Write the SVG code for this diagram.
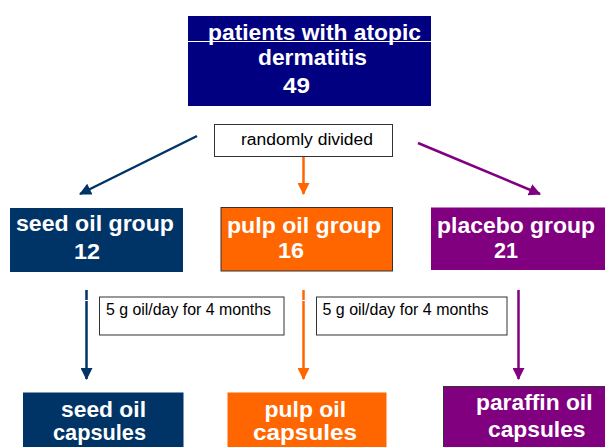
<svg xmlns="http://www.w3.org/2000/svg" width="605" height="447" viewBox="0 0 605 447">
<style>
.b{font-family:"Liberation Sans",Arial,sans-serif;font-weight:bold;font-size:22px;fill:#fff}
.r{font-family:"Liberation Sans",Arial,sans-serif;font-size:16px;fill:#000}
.lb{fill:#fff;stroke:#333;stroke-width:1}
.navy{fill:#003366}
.org{fill:#FF6600}
.pur{fill:#800080}
</style>
<defs>
<marker id="mN" viewBox="0 0 12 12" refX="11" refY="6" markerWidth="12" markerHeight="12" markerUnits="userSpaceOnUse" orient="auto"><path d="M0,0 L12,6 L0,12 z" fill="#003366"/></marker>
<marker id="mO" viewBox="0 0 12 12" refX="11" refY="6" markerWidth="12" markerHeight="12" markerUnits="userSpaceOnUse" orient="auto"><path d="M0,0 L12,6 L0,12 z" fill="#FF6600"/></marker>
<marker id="mP" viewBox="0 0 12 12" refX="11" refY="6" markerWidth="12" markerHeight="12" markerUnits="userSpaceOnUse" orient="auto"><path d="M0,0 L12,6 L0,12 z" fill="#800080"/></marker>
</defs>
<g id="connectors" fill="none" stroke-width="2.5">
<line x1="197" y1="136" x2="80" y2="194" stroke="#003366" marker-end="url(#mN)"/>
<line x1="303.5" y1="157" x2="303.5" y2="194" stroke="#FF6600" marker-end="url(#mO)"/>
<line x1="418" y1="143" x2="540" y2="194" stroke="#800080" marker-end="url(#mP)"/>
<line x1="86.5" y1="290" x2="86.5" y2="379" stroke="#003366" marker-end="url(#mN)"/>
<line x1="303.5" y1="290" x2="303.5" y2="379" stroke="#FF6600" marker-end="url(#mO)"/>
<line x1="518.5" y1="290" x2="518.5" y2="379" stroke="#800080" marker-end="url(#mP)"/>
<line x1="84" y1="300.5" x2="89" y2="300.5" stroke="#fff" stroke-width="1"/>
<line x1="301" y1="300.5" x2="306" y2="300.5" stroke="#fff" stroke-width="1"/>
</g>
<g id="patients">
<rect x="188" y="16" width="243" height="90" fill="#000080"/>
<text class="b" x="208" y="40" textLength="213" lengthAdjust="spacingAndGlyphs">patients with atopic</text>
<line x1="188" y1="41.5" x2="431" y2="41.5" stroke="#fff" stroke-width="1"/>
<text class="b" x="258" y="65" textLength="109" lengthAdjust="spacingAndGlyphs">dermatitis</text>
<text class="b" x="283" y="93" textLength="27" lengthAdjust="spacingAndGlyphs">49</text>
</g>
<g id="randomly">
<rect class="lb" x="214.5" y="124.5" width="178" height="32"/>
<text class="r" x="241" y="145" textLength="132" lengthAdjust="spacingAndGlyphs">randomly divided</text>
</g>
<g id="seedGroup">
<rect class="navy" x="10" y="208" width="173" height="64"/>
<text class="b" x="16" y="231" textLength="158" lengthAdjust="spacingAndGlyphs">seed oil group</text>
<text class="b" x="74" y="259" textLength="26" lengthAdjust="spacingAndGlyphs">12</text>
</g>
<g id="pulpGroup">
<rect class="org" x="221" y="207.5" width="171.5" height="63.5" stroke="#333" stroke-width="1"/>
<text class="b" x="227" y="233" textLength="154" lengthAdjust="spacingAndGlyphs">pulp oil group</text>
<text class="b" x="278" y="258" textLength="26" lengthAdjust="spacingAndGlyphs">16</text>
</g>
<g id="placeboGroup">
<rect class="pur" x="431" y="207.5" width="180" height="62.5"/>
<text class="b" x="437" y="233" textLength="158" lengthAdjust="spacingAndGlyphs">placebo group</text>
<text class="b" x="494" y="258" textLength="24" lengthAdjust="spacingAndGlyphs">21</text>
</g>
<g id="dose1">
<rect class="lb" x="99.5" y="297" width="184.5" height="38"/>
<text class="r" x="106" y="315" textLength="165" lengthAdjust="spacingAndGlyphs">5 g oil/day for 4 months</text>
</g>
<g id="dose2">
<rect class="lb" x="316.5" y="297" width="190.5" height="38"/>
<text class="r" x="322.5" y="315" textLength="166" lengthAdjust="spacingAndGlyphs">5 g oil/day for 4 months</text>
</g>
<g id="seedCaps">
<rect class="navy" x="23" y="392.5" width="160.5" height="60"/>
<text class="b" x="61" y="417" textLength="85" lengthAdjust="spacingAndGlyphs">seed oil</text>
<text class="b" x="53" y="440" textLength="93" lengthAdjust="spacingAndGlyphs">capsules</text>
</g>
<g id="pulpCaps">
<rect class="org" x="227.5" y="392.5" width="159" height="60"/>
<text class="b" x="264.5" y="417" textLength="81.5" lengthAdjust="spacingAndGlyphs">pulp oil</text>
<text class="b" x="253" y="440" textLength="104" lengthAdjust="spacingAndGlyphs">capsules</text>
</g>
<g id="paraffinCaps">
<rect class="pur" x="443.5" y="386.5" width="170" height="70" stroke="#333" stroke-width="1"/>
<text class="b" x="476" y="410" textLength="116.5" lengthAdjust="spacingAndGlyphs">paraffin oil</text>
<text class="b" x="488" y="437" textLength="97.5" lengthAdjust="spacingAndGlyphs">capsules</text>
</g>
</svg>
